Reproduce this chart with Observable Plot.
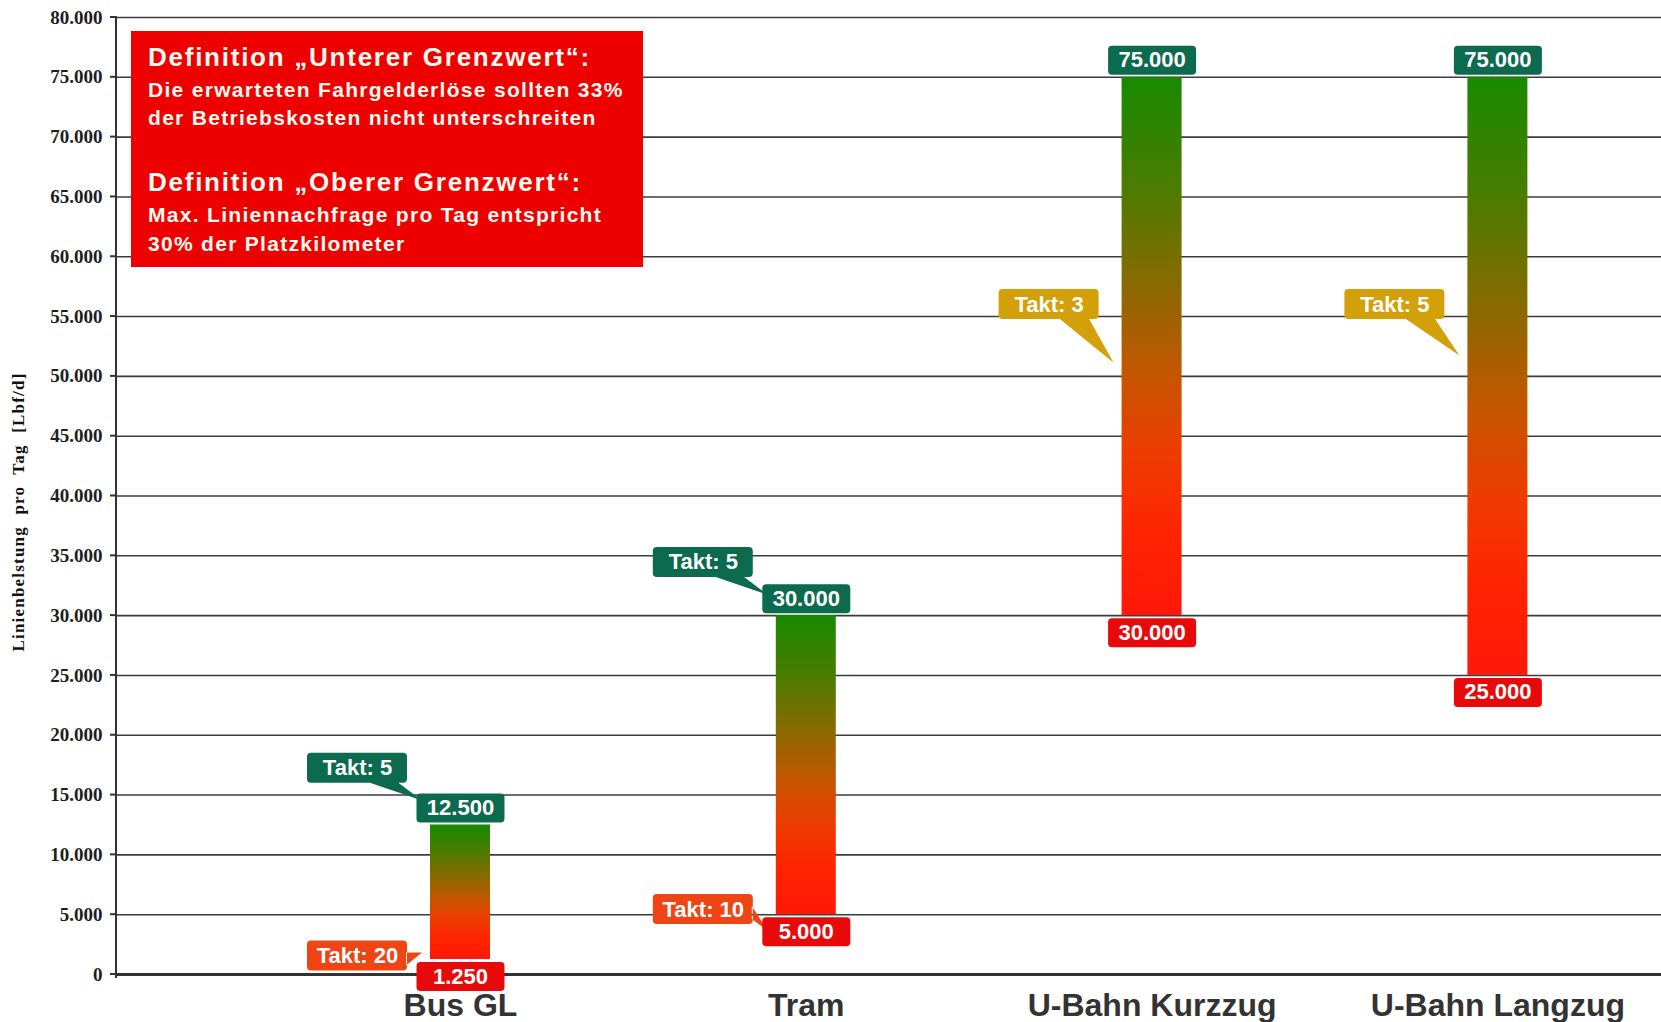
<!DOCTYPE html>
<html>
<head>
<meta charset="utf-8">
<script src="https://cdn.jsdelivr.net/npm/d3@7"></script>
<script src="https://cdn.jsdelivr.net/npm/@observablehq/plot@0.6"></script>
<style>
  html, body { margin: 0; padding: 0; background: #fff; overflow: hidden; }
  #wrap { position: relative; width: 1661px; height: 1022px; }
  #def { position: absolute; left: 131px; top: 31px; width: 512px; height: 236px;
         background: #ee0000; color: #fffaf0; font-family: "Liberation Sans", Arial, sans-serif;
         font-weight: bold; }
  #def div { position: absolute; left: 17px; line-height: 1; white-space: nowrap; }
  #def .h { font-size: 26px; letter-spacing: 1.75px; }
  #def .b { font-size: 21px; letter-spacing: 1.3px; }
</style>
</head>
<body>
<div id="wrap"></div>
<script>
// ---------- data ----------
const categories = ["Bus GL", "Tram", "U-Bahn Kurzzug", "U-Bahn Langzug"];
const lowerLimit = [1250, 5000, 30000, 25000];   // Unterer Grenzwert
const upperLimit = [12500, 30000, 75000, 75000]; // Oberer Grenzwert

const taktCategory = ["Bus GL", "Bus GL", "Tram", "Tram", "U-Bahn Kurzzug", "U-Bahn Langzug"];
const taktText     = ["Takt: 5", "Takt: 20", "Takt: 5", "Takt: 10", "Takt: 3", "Takt: 5"];
const taktLevel    = [17250, 1550, 34450, 5430, 56000, 56000]; // label level
const taktTip      = [14500, 1800, 31700, 3600, 51100, 51700]; // level the pointer points to
const taktKind     = ["oben", "unten", "oben", "unten", "mitte", "mitte"];

const yTicks = [0, 5000, 10000, 15000, 20000, 25000, 30000, 35000, 40000,
                45000, 50000, 55000, 60000, 65000, 70000, 75000, 80000];
const yTitle = "Linienbelstung pro Tag [Lbf/d]";
const defLines = [
  ["h", "Definition \u201EUnterer Grenzwert\u201C:"],
  ["b", "Die erwarteten Fahrgelderl\u00F6se sollten 33%"],
  ["b", "der Betriebskosten nicht unterschreiten"],
  ["h", "Definition \u201EOberer Grenzwert\u201C:"],
  ["b", "Max. Liniennachfrage pro Tag entspricht"],
  ["b", "30% der Platzkilometer"]
];

// ---------- styles ----------
const kindColor = {oben: "#0c6a4e", unten: "#ef4414", mitte: "#d4a00a"};
const topColor = "#0c6a4e", bottomColor = "#e80a0a";
const sans = "Liberation Sans, Arial, sans-serif";
const serif = "Liberation Serif, Times New Roman, serif";
const defTops = [13, 48, 76, 138, 173, 202];
const CALLOUT_DX = -103;

const rows = categories.map((c, i) => ({category: c, min: lowerLimit[i], max: upperLimit[i]}));
const takt = taktCategory.map((c, i) => ({category: c, text: taktText[i], level: taktLevel[i], tip: taktTip[i], kind: taktKind[i]}));

const de = d3.formatLocale({decimal: ",", thousands: ".", grouping: [3], currency: ["", "\u20AC"]});
const fmt = de.format(",");

const NS = "http://www.w3.org/2000/svg";
const el = (name, attrs = {}) => {
  const e = document.createElementNS(NS, name);
  for (const [k, v] of Object.entries(attrs)) e.setAttribute(k, v);
  return e;
};

function roundedRect(ctx, x0, y0, w, h, r) {
  const x1 = x0 + w, y1 = y0 + h;
  ctx.moveTo(x0 + r, y0);
  ctx.lineTo(x1 - r, y0); ctx.arcTo(x1, y0, x1, y0 + r, r);
  ctx.lineTo(x1, y1 - r); ctx.arcTo(x1, y1, x1 - r, y1, r);
  ctx.lineTo(x0 + r, y1); ctx.arcTo(x0, y1, x0, y1 - r, r);
  ctx.lineTo(x0, y0 + r); ctx.arcTo(x0, y0, x0 + r, y0, r);
  ctx.closePath();
}
const boxSymbol = {draw(ctx) { roundedRect(ctx, -44, -14.5, 88, 29, 4); }};

// gradient definition
const defsMark = () => {
  const defs = el("defs");
  const lg = el("linearGradient", {id: "barGrad", x1: 0, y1: 0, x2: 0, y2: 1});
  [[0, "#178a00"], [0.2, "#4a7c00"], [0.4, "#8e6800"], [0.55, "#c45600"],
   [0.7, "#ee3c00"], [0.85, "#ff2400"], [1, "#ff180a"]].forEach(([o, c]) =>
    lg.appendChild(el("stop", {offset: o, "stop-color": c})));
  defs.appendChild(lg);
  return defs;
};

// y axis line + tick marks
const axisMark = (index, scales, values, dims) => {
  const g = el("g", {stroke: "#333", "stroke-width": 2});
  const x0 = dims.marginLeft;
  g.appendChild(el("line", {x1: x0, x2: x0, y1: dims.marginTop - 1, y2: dims.height - dims.marginBottom + 4}));
  yTicks.forEach(t => {
    const y = scales.y(t);
    g.appendChild(el("line", {x1: x0 - 6, x2: x0, y1: y, y2: y}));
  });
  return g;
};

// Takt callouts (box + pointer)
const calloutMark = (index, scales, values, dims) => {
  const g = el("g");
  const bw = scales.x.bandwidth();
  const w = 100, h = 30, r = 4;
  takt.forEach(d => {
    const left = scales.x(d.category);
    const xc = left + bw / 2 + CALLOUT_DX;
    const yc = scales.y(d.level);
    const tx = left - 8, ty = scales.y(d.tip);
    const p = d3.path();
    roundedRect(p, xc - w / 2, yc - h / 2, w, h, r);
    const yb = yc + h / 2, xr = xc + w / 2;
    if (ty > yb + 12) {
      p.moveTo(xc + 10, yb - 1); p.lineTo(xc + 40, yb - 1); p.lineTo(tx, ty); p.closePath();
    } else {
      p.moveTo(xr - 1, yc - 3); p.lineTo(xr - 1, yc + 10); p.lineTo(tx, ty); p.closePath();
    }
    g.appendChild(el("path", {d: p.toString(), fill: kindColor[d.kind]}));
  });
  return g;
};

const chart = Plot.plot({
  width: 1661,
  height: 1022,
  marginLeft: 116,
  marginRight: 0,
  marginTop: 17,
  marginBottom: 48,
  style: {background: "#fff", overflow: "visible"},
  x: {domain: categories, axis: null, paddingInner: 0.8265, paddingOuter: 0.6472, align: 0.7015, round: false},
  y: {domain: [0, 80000], axis: null},
  marks: [
    defsMark,
    Plot.ruleY(yTicks, {stroke: "#3c3c3c", strokeWidth: 1.6}),
    Plot.ruleY([0], {stroke: "#333", strokeWidth: 3}),
    axisMark,
    Plot.text(yTicks, {y: d => d, text: d => fmt(d), frameAnchor: "left", textAnchor: "end", dx: -14,
      fontFamily: serif, fontWeight: "bold", fontSize: 19, fill: "#1e1e1e"}),
    Plot.text([yTitle], {text: d => d, frameAnchor: "left", textAnchor: "middle", rotate: -90, dx: -98, dy: 16,
      fontFamily: serif, fontWeight: "bold", fontSize: 17, fill: "#111"}),
    Plot.barY(rows, {x: "category", y1: "min", y2: "max", fill: "url(#barGrad)"}),
    Plot.text(categories, {x: d => d, text: d => d, frameAnchor: "bottom", lineAnchor: "bottom", dy: 41,
      fontFamily: sans, fontWeight: "bold", fontSize: 32, fill: "#333"}),
    calloutMark,
    Plot.text(takt, {x: "category", y: "level", text: "text", dx: CALLOUT_DX,
      fontFamily: sans, fontWeight: "bold", fontSize: 22, fill: "#fff"}),
    Plot.dot(rows, {x: "category", y: "max", dy: -17, symbol: boxSymbol, fill: topColor, stroke: "none"}),
    Plot.text(rows, {x: "category", y: "max", dy: -17, text: d => fmt(d.max),
      fontFamily: sans, fontWeight: "bold", fontSize: 22, fill: "#fff"}),
    Plot.dot(rows, {x: "category", y: "min", dy: 17, symbol: boxSymbol, fill: bottomColor, stroke: "none"}),
    Plot.text(rows, {x: "category", y: "min", dy: 17, text: d => fmt(d.min),
      fontFamily: sans, fontWeight: "bold", fontSize: 22, fill: "#fff"})
  ]
});

// letter/word spacing of the y title
d3.select(chart).selectAll("text").filter(function() { return this.textContent === yTitle; })
  .style("letter-spacing", "1.2px").style("word-spacing", "6px");

const wrap = document.getElementById("wrap");
wrap.appendChild(chart);
const def = document.createElement("div");
def.id = "def";
defLines.forEach(([cls, txt], i) => {
  const d = document.createElement("div");
  d.className = cls;
  d.style.top = defTops[i] + "px";
  d.textContent = txt;
  def.appendChild(d);
});
wrap.appendChild(def);
</script>
</body>
</html>
